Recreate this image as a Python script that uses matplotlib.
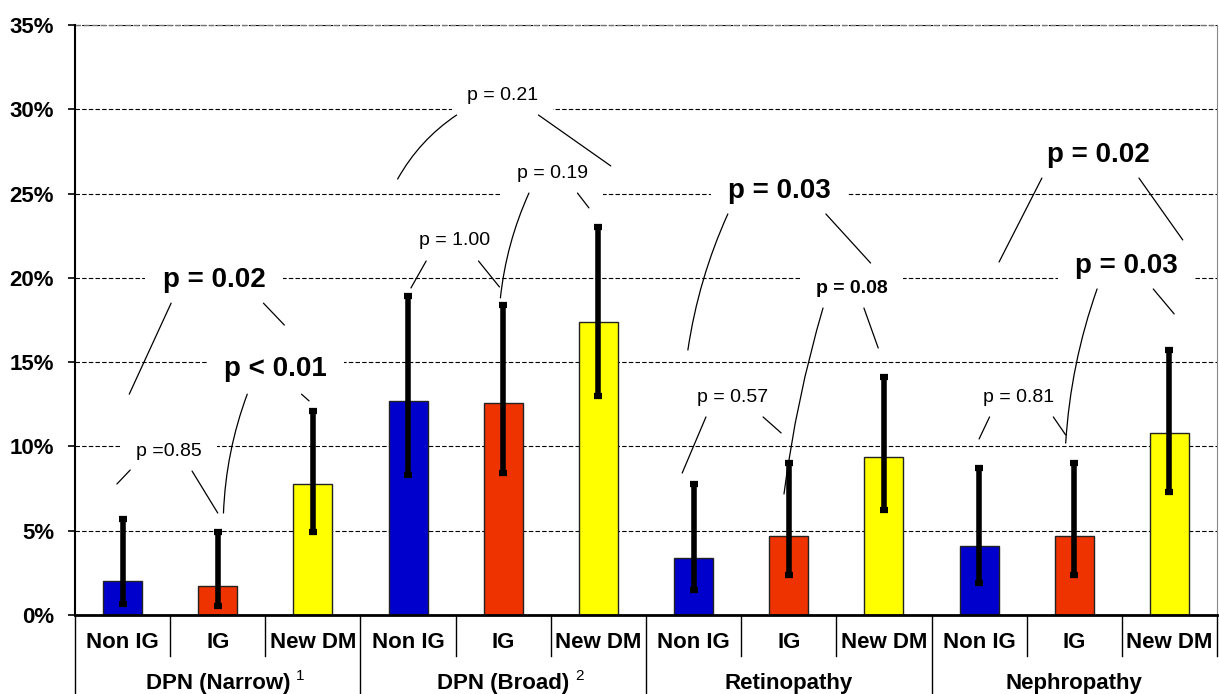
import matplotlib.pyplot as plt
from matplotlib import transforms

plt.rcParams['font.family'] = ['Liberation Sans', 'DejaVu Sans']

# --- data (percent) ---
groups = ['DPN (Narrow)', 'DPN (Broad)', 'Retinopathy', 'Nephropathy']
group_notes = ['1', '2', '', '']
categories = ['Non IG', 'IG', 'New DM']
colors = ['#0000CC', '#EE3300', '#FFFF00']

non_ig = [2.0, 12.7, 3.4, 4.1]
non_ig_lo = [0.65, 8.3, 1.5, 1.9]
non_ig_hi = [5.7, 18.9, 7.8, 8.7]

ig = [1.7, 12.6, 4.7, 4.7]
ig_lo = [0.55, 8.4, 2.4, 2.4]
ig_hi = [4.9, 18.4, 9.0, 9.0]

new_dm = [7.8, 17.4, 9.4, 10.8]
new_dm_lo = [4.9, 13.0, 6.2, 7.3]
new_dm_hi = [12.1, 23.0, 14.1, 15.7]

yticks = [0, 5, 10, 15, 20, 25, 30, 35]

# p-value labels: text, x (bar index), y (%), size, bold
p_labels = [
    ('p = 0.02', 0.96, 19.9, 20, True),
    ('p < 0.01', 1.61, 14.6, 20, True),
    ('p =0.85', 0.49, 9.7, 14, False),
    ('p = 0.21', 3.99, 30.8, 14, False),
    ('p = 0.19', 4.52, 26.2, 14, False),
    ('p = 1.00', 3.49, 22.2, 14, False),
    ('p = 0.03', 6.90, 25.15, 20, True),
    ('p = 0.08', 7.66, 19.35, 14, True),
    ('p = 0.57', 6.41, 12.9, 14, False),
    ('p = 0.02', 10.25, 27.3, 20, True),
    ('p = 0.03', 10.55, 20.7, 20, True),
    ('p = 0.81', 9.42, 12.9, 14, False),
]
p_widths = [0.62, 0.62, 0.78, 0.78, 0.78, 0.78, 0.62, 0.78, 0.78, 0.62, 0.62, 0.78]

# connector lines: x0, y0 (near label) -> x1, y1 (near bar), curvature
connectors = [
    (0.51, 18.5, 0.07, 13.1, 0.0),
    (1.48, 18.5, 1.70, 17.2, 0.0),
    (1.31, 13.1, 1.06, 6.05, 0.08),
    (1.88, 13.1, 1.96, 12.7, 0.0),
    (0.08, 8.6, -0.06, 7.77, 0.0),
    (0.73, 8.54, 1.00, 6.05, 0.0),
    (3.51, 29.66, 2.89, 25.86, 0.12),
    (4.37, 29.66, 5.13, 26.64, 0.0),
    (4.27, 25.03, 3.97, 18.81, 0.08),
    (4.78, 25.03, 4.90, 24.15, 0.0),
    (3.19, 21.0, 3.03, 19.4, 0.0),
    (3.74, 21.0, 3.96, 19.46, 0.0),
    (6.36, 23.79, 5.94, 15.72, 0.07),
    (7.39, 23.79, 7.86, 20.88, 0.0),
    (7.36, 18.21, 6.95, 7.18, 0.04),
    (7.79, 18.21, 7.94, 15.84, 0.0),
    (6.13, 11.75, 5.88, 8.42, 0.0),
    (6.73, 11.75, 6.92, 10.80, 0.0),
    (9.66, 25.92, 9.21, 20.94, 0.0),
    (10.68, 25.92, 11.14, 22.25, 0.0),
    (10.24, 19.34, 9.91, 10.20, 0.07),
    (10.83, 19.34, 11.05, 17.86, 0.0),
    (9.11, 11.75, 9.00, 10.44, 0.0),
    (9.78, 11.75, 9.91, 10.68, 0.0),
]

fig = plt.figure(figsize=(12.19, 6.94), dpi=100)
ax = fig.add_axes([75 / 1219, 1 - 615 / 694, 1142 / 1219, 590 / 694])

series = [(non_ig, non_ig_lo, non_ig_hi), (ig, ig_lo, ig_hi), (new_dm, new_dm_lo, new_dm_hi)]
for c, (vals, lo, hi) in enumerate(series):
    xs = [g * 3 + c for g in range(len(groups))]
    ax.bar(xs, vals, width=0.41, color=colors[c], edgecolor='#222222', linewidth=1, zorder=2)
    yerr = [[v - l for v, l in zip(vals, lo)], [h - v for v, h in zip(vals, hi)]]
    ax.errorbar(xs, vals, yerr=yerr, fmt='none', ecolor='black', elinewidth=4,
                capsize=3.2, capthick=4.5, zorder=3)

ax.set_xlim(-0.5, 11.5)
ax.set_ylim(0, 35)
ax.set_yticks(yticks)
ax.set_yticklabels([f'{t}%' for t in yticks], fontsize=16, fontweight='bold')
ax.tick_params(axis='y', length=5, width=1.2, pad=10)
ax.set_xticks([])

ax.set_axisbelow(True)
ax.yaxis.grid(True, color='black', linewidth=0.8, linestyle=(0, (4, 2)))
ax.spines['top'].set_visible(False)
ax.spines['right'].set_color('#888888')
ax.spines['left'].set_linewidth(1.5)
ax.spines['bottom'].set_linewidth(2)
ax.axhline(35, color='#777777', linewidth=1, linestyle=(0, (4, 2)), clip_on=False)

# p-value labels with white backing
for (txt, x, y, size, bold), pw in zip(p_labels, p_widths):
    ax.text(x, y, txt, fontsize=size, fontweight='bold' if bold else 'normal',
            ha='center', va='center', zorder=5,
            bbox=dict(boxstyle=f'square,pad={pw}', facecolor='white', edgecolor='none'))

for x0, y0, x1, y1, rad in connectors:
    ax.annotate('', xy=(x1, y1), xytext=(x0, y0), zorder=6,
                arrowprops=dict(arrowstyle='-', color='black', lw=0.9,
                                shrinkA=0, shrinkB=0,
                                connectionstyle=f'arc3,rad={rad}'))

# two-level category table below the axis
trans = transforms.blended_transform_factory(ax.transData, ax.transAxes)
row1 = -41 / 590
row2 = -80 / 590
for i in range(13):
    xb = i - 0.5
    bottom = row2 if i % 3 == 0 and i < 12 else row1
    ax.plot([xb, xb], [0, bottom], transform=trans, color='black', lw=1, clip_on=False)

for g, name in enumerate(groups):
    for c, cat in enumerate(categories):
        ax.text(g * 3 + c, -27 / 590, cat, transform=trans, ha='center', va='center',
                fontsize=16, fontweight='bold')
    t = ax.text(g * 3 + 1, -69 / 590, name, transform=trans, ha='center', va='center',
                fontsize=16, fontweight='bold')
    if group_notes[g]:
        ax.annotate(group_notes[g], xy=(1, 0.55), xycoords=t, xytext=(4, 0),
                    textcoords='offset points', fontsize=11, va='bottom', ha='left')

fig.savefig('out.png', dpi=100)
